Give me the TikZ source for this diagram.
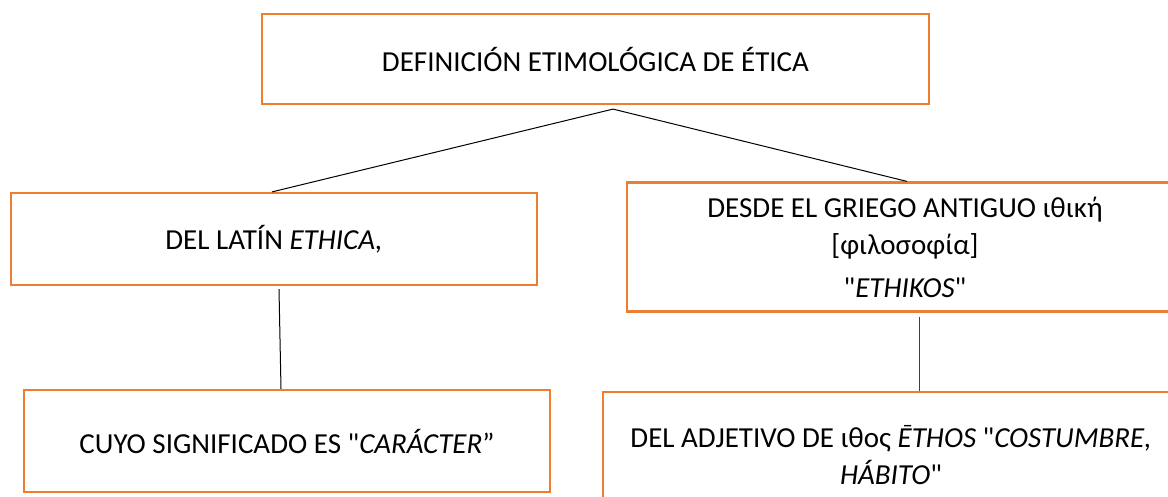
\documentclass[tikz,border=0pt]{standalone}
\usepackage{fontspec}
\setmainfont{Carlito}
\definecolor{boxorange}{HTML}{ED7D31}
\tikzset{
    etibox/.style={draw=boxorange, line width=2.2pt, fill=white, align=center, inner sep=0pt,
        font=\fontsize{29}{37}\selectfont},
    link/.style={line width=1pt, black}
}
\begin{document}
\begin{tikzpicture}[x=1pt, y=-1pt]
    \useasboundingbox (0,0) rectangle (1168,497);
    \clip (0,0) rectangle (1168,497);

    % Boxes
    \node[etibox, minimum width=667pt, minimum height=90pt] (def) at (595.5,59) {DEFINICIÓN ETIMOLÓGICA DE ÉTICA};
    \node[etibox, minimum width=526pt, minimum height=92pt] (lat) at (274,239) {DEL LATÍN \textit{ETHICA,}};
    \node[etibox, minimum width=556pt, minimum height=129pt] (gri) at (905,247)
        {DESDE EL GRIEGO ANTIGUO ιθική\\ {[φιλοσοφία]}\\[6pt] \textquotedbl\textit{ETHIKOS}\textquotedbl};
    \node[etibox, minimum width=526pt, minimum height=102pt] (sig) at (287,441)
        {CUYO SIGNIFICADO ES \textquotedbl\textit{CARÁCTER}”};
    \node[etibox, minimum width=576pt, minimum height=126pt] (adj) at (891,455)
        {DEL ADJETIVO DE ιθος \textit{ĒTHOS} \textquotedbl\textit{COSTUMBRE,}\\ \textit{HÁBITO}\textquotedbl};

    % Connectors
    \coordinate (deffoot) at ([xshift=17.5pt, yshift=-4pt]def.south);
    \coordinate (latfoot) at ([xshift=5pt, yshift=-3pt]lat.south);
    \coordinate (grifoot) at ([xshift=14pt, yshift=-4pt]gri.south);
    \draw[link] (deffoot) -- ([xshift=-2pt]lat.north);
    \draw[link] (deffoot) -- ([xshift=2pt]gri.north);
    \draw[link] (latfoot) -- ([xshift=-6pt]sig.north);
    \draw[link, black!75] (grifoot) -- (grifoot |- adj.north);
\end{tikzpicture}
\end{document}
